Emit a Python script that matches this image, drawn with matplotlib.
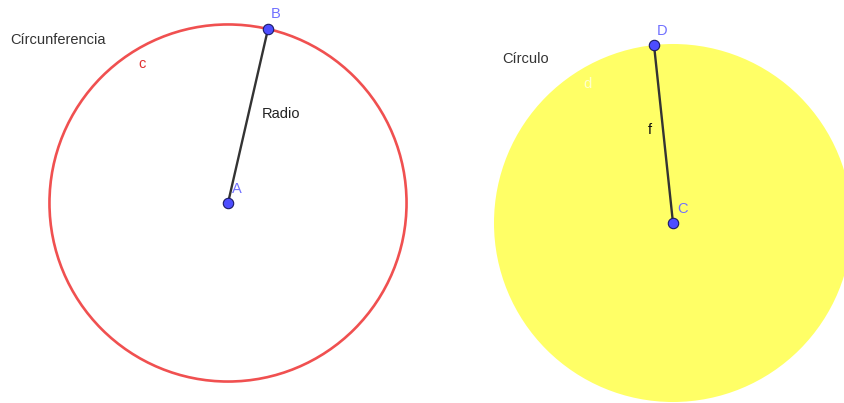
import matplotlib.pyplot as plt
import numpy as np

# point positions (pixel coordinates of the drawing, y down)
point_names = ['A', 'B', 'C', 'D']
point_x = [228, 268, 673, 654]
point_y = [203, 29, 223, 45]

# circle c: centre A through B, disc d: centre C through D
segments = [('A', 'B'), ('C', 'D')]

plt.rcParams['font.family'] = ['Liberation Sans', 'DejaVu Sans']

fig = plt.figure(figsize=(8.44, 4.03), dpi=100)
ax = fig.add_axes([0, 0, 1, 1])
ax.set_xlim(0, 844)
ax.set_ylim(403, 0)
ax.set_aspect('equal')
ax.axis('off')

pts = {n: (x, y) for n, x, y in zip(point_names, point_x, point_y)}

def dist(p, q):
    return np.hypot(p[0] - q[0], p[1] - q[1])

# yellow disc
r_d = dist(pts['C'], pts['D'])
disc = plt.Circle(pts['C'], r_d, facecolor='#ffff66', edgecolor='none', zorder=1)
ax.add_patch(disc)

# red circle
r_c = dist(pts['A'], pts['B'])
circ = plt.Circle(pts['A'], r_c, fill=False, edgecolor='#f05050', linewidth=1.9, zorder=2)
ax.add_patch(circ)

# radius segments
for p, q in segments:
    ax.plot([pts[p][0], pts[q][0]], [pts[p][1], pts[q][1]], color='#333333', linewidth=1.7, zorder=3)

# points
ax.plot(point_x, point_y, 'o', markersize=7.5, markerfacecolor='#4d4dff',
        markeredgecolor='#1a1a66', markeredgewidth=0.8, zorder=4)

# point labels
label_off = {'A': (9, -14), 'B': (8, -15), 'C': (9, -14), 'D': (8, -14)}
for n in point_names:
    dx, dy = label_off[n]
    ax.text(pts[n][0] + dx, pts[n][1] + dy, n, color='#7070ff', fontsize=10.5,
            ha='center', va='center', zorder=5)

# other labels
ax.text(10, 40, 'Círcunferencia', fontsize=10.5, color='#333333', ha='left', va='center')
ax.text(502, 59, 'Círculo', fontsize=10.5, color='#333333', ha='left', va='center')
ax.text(142, 64, 'c', fontsize=10.5, color='#e03030', ha='center', va='center')
ax.text(587, 84, 'd', fontsize=10.5, color='#ffffcc', ha='center', va='center', zorder=5)
ax.text(262, 114, 'Radio', fontsize=10.5, color='#222222', ha='left', va='center')
ax.text(650, 130, 'f', fontsize=10.5, color='#111111', ha='center', va='center', zorder=5)

fig.savefig('out.png', dpi=100, facecolor='white')
